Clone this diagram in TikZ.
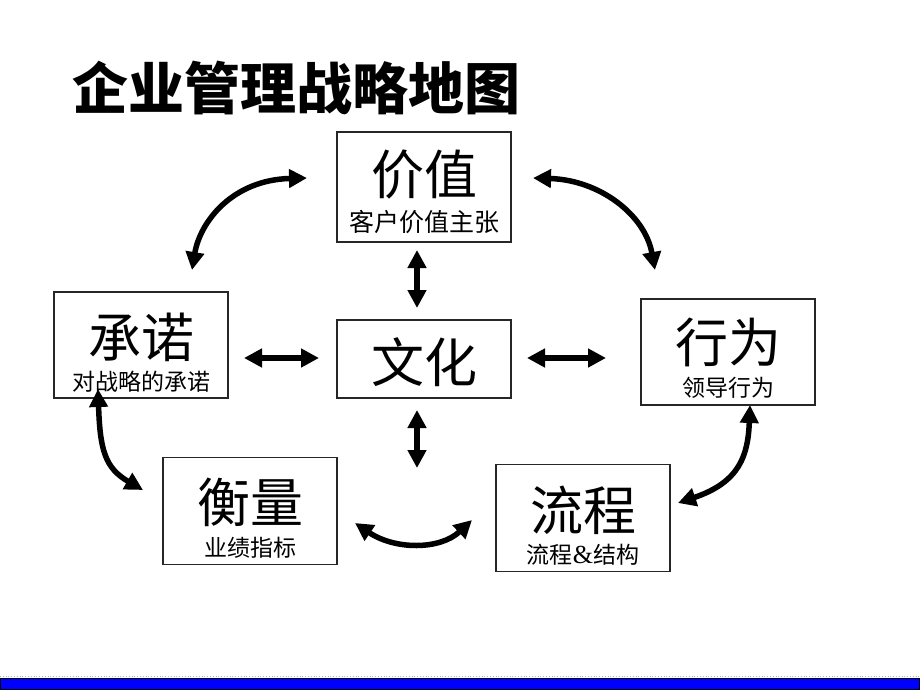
\documentclass[tikz,border=0pt]{standalone}
\usepackage{fontspec}
\setmainfont{Noto Sans CJK SC}
\newfontfamily\cjk{Noto Sans CJK SC}
\newfontfamily\amp{Liberation Serif}
\usetikzlibrary{arrows.meta}
\begin{document}
\begin{tikzpicture}[x=1pt,y=-1pt,
  box/.style={draw=black!85,line width=1.3pt,minimum width=174pt,inner sep=0pt},
  bigtxt/.style={font=\cjk\fontsize{53}{53}\selectfont,inner sep=0pt},
  subtxt/.style={font=\cjk\fontsize{23}{23}\selectfont,inner sep=0pt},
  conn/.style={line width=5.5pt,{Triangle[width=18pt,length=18pt]}-{Triangle[width=18pt,length=18pt]}}
]
\useasboundingbox (0,0) rectangle (920,690);
\fill[white] (0,0) rectangle (920,690);
% title
\node[anchor=west,inner sep=0pt,font=\cjk\bfseries\fontsize{56}{56}\selectfont] (title) at (72,88) {企业管理战略地图};
% boxes
\node[box,minimum height=110pt] (jz) at (424,187) {};
\node[box,minimum height=106pt] (cn) at (141,345) {};
\node[box,minimum height=78pt]  (wh) at (424,359) {};
\node[box,minimum height=106pt] (xw) at (728,352) {};
\node[box,minimum height=107pt] (hl) at (250,511) {};
\node[box,minimum height=107pt] (lc) at (583,518) {};
% texts
\node[bigtxt] (jzt) at (424,175) {价值};
\node[subtxt,font=\cjk\fontsize{25}{25}\selectfont] (jzs) at (424,222) {客户价值主张};
\node[bigtxt] (cnt) at (141,337) {承诺};
\node[subtxt] (cns) at (141,382) {对战略的承诺};
\node[bigtxt] (wht) at (424,362) {文化};
\node[bigtxt] (xwt) at (728,342) {行为};
\node[subtxt] (xws) at (728,388) {领导行为};
\node[bigtxt] (hlt) at (250,502) {衡量};
\node[subtxt] (hls) at (250,548) {业绩指标};
\node[bigtxt] (lct) at (583,510) {流程};
\node[subtxt] (lcs) at (583,555) {流程{\amp\fontsize{26}{26}\selectfont\&}结构};
% connector end points
\coordinate (a1) at (307,178); \coordinate (a2) at (192,270);
\coordinate (b1) at (533,178); \coordinate (b2) at (655,270);
\coordinate (c1) at (417,250); \coordinate (c2) at (417,308);
\coordinate (d1) at (417,410); \coordinate (d2) at (417,468);
\coordinate (e1) at (244,358); \coordinate (e2) at (319,358);
\coordinate (f1) at (527,358); \coordinate (f2) at (606,358);
\coordinate (g1) at (98,389);  \coordinate (g2) at (143,490);
\coordinate (h1) at (355,523); \coordinate (h2) at (472,520);
\coordinate (k1) at (750,405); \coordinate (k2) at (678,503);
% connectors
\draw[conn] (a2) .. controls (200,222) and (232,180) .. (a1);
\draw[conn] (b1) .. controls (600,180) and (645,215) .. (b2);
\draw[conn] (c1) -- (c2);
\draw[conn] (d1) -- (d2);
\draw[conn] (e1) -- (e2);
\draw[conn] (f1) -- (f2);
\draw[conn] (g1) .. controls (100,450) and (105,468) .. (g2);
\draw[conn] (h1) .. controls (395,550) and (440,550) .. (h2);
\draw[conn] (k1) .. controls (748,455) and (740,482) .. (k2);
% bottom bar
\draw[gray!60,line width=0.8pt,dotted] (0,676.5) -- (920,676.5);
\draw[fill={rgb,255:red,0;green,0;blue,255},draw=black,line width=1pt] (0.5,678) rectangle (919.5,689.5);
\end{tikzpicture}
\end{document}
